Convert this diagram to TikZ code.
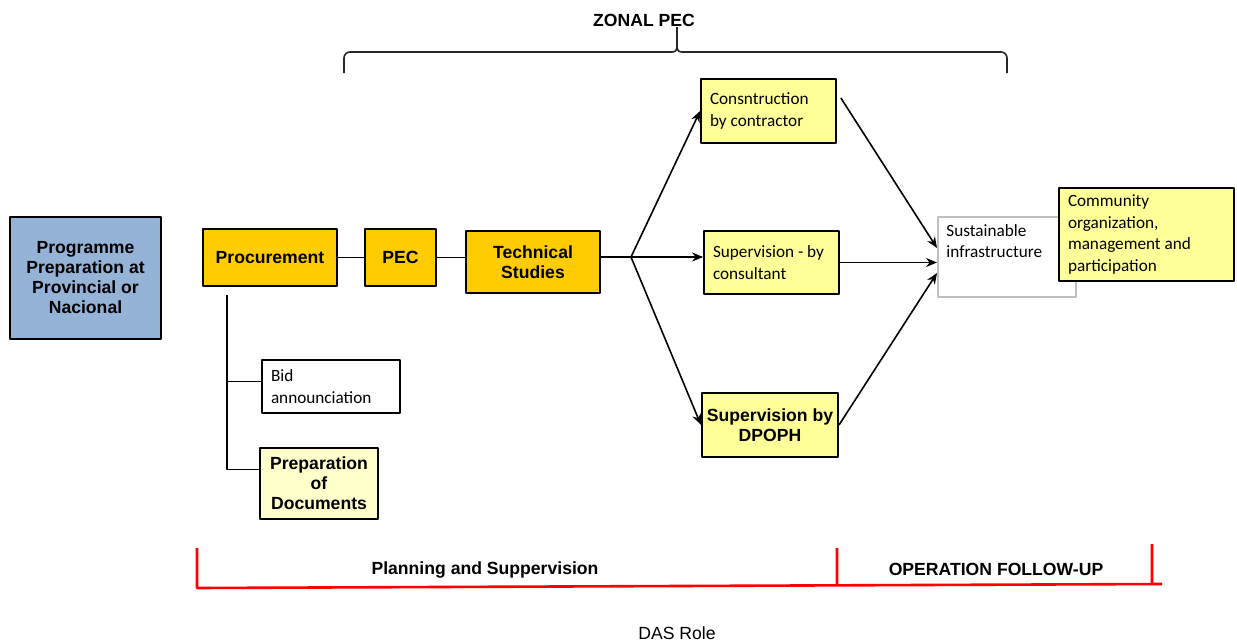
\documentclass[tikz,border=0pt]{standalone}
\usepackage{fontspec}
\setmainfont{Liberation Sans}
\newfontfamily\calibri{Carlito}
\usetikzlibrary{calc,arrows.meta}
\definecolor{progblue}{HTML}{95B3D7}
\definecolor{gold}{HTML}{FFCC00}
\definecolor{ylw}{HTML}{FFFF99}
\definecolor{paleylw}{HTML}{FFFFCC}
\definecolor{boxgray}{HTML}{BFBFBF}
\begin{document}
\begin{tikzpicture}[x=.5pt, y=-.5pt, line join=round, >={Stealth[length=5.5pt,width=4.5pt]},
        bbox/.style={draw, line width=1pt, inner sep=0pt, align=center, font=\fontsize{8.8}{10}\selectfont\bfseries},
        cbox/.style={draw, line width=.9pt, inner xsep=4.5pt, inner ysep=0pt, align=flush left, font=\calibri\fontsize{8.6}{10.8}\selectfont},
        lbl/.style={inner sep=0pt, font=\fontsize{8.8}{10}\selectfont\bfseries},
        link/.style={line width=.8pt}]
                \useasboundingbox (0,0) rectangle (1237,643);
                % boxes
                \node[bbox, fill=progblue, minimum width=75.5pt, minimum height=61pt] (prog) at (85.5,278) {Programme\\Preparation at\\Provincial or\\Nacional};
                \node[bbox, fill=gold, minimum width=67pt, minimum height=28.5pt] (proc) at (270,257.5) {Procurement};
                \node[bbox, fill=gold, minimum width=35.5pt, minimum height=28.5pt] (pec) at (400.5,257.5) {PEC};
                \node[bbox, fill=gold, minimum width=67pt, minimum height=31pt] (tech) at (533,262) {Technical\\Studies};
                \node[cbox, fill=ylw, text width=58.5pt, minimum height=32pt] (constr) at (768.5,111) {Consntruction\\by contractor};
                \node[cbox, fill=ylw, text width=58.5pt, minimum height=31.5pt] (cons) at (771.5,262.5) {Supervision - by\\consultant};
                \node[bbox, fill=ylw, minimum width=68pt, minimum height=32pt] (dpoph) at (770,425) {Supervision by\\DPOPH};
                \node[draw=boxgray, line width=1pt, minimum width=69pt, minimum height=40pt, inner sep=0pt] (sust) at (1007,257) {};
                \node[anchor=north west, inner sep=0pt, align=flush left, font=\calibri\fontsize{8.6}{10.8}\selectfont] (susttxt) at ($(sust.north west)+(9,8)$) {Sustainable\\infrastructure};
                \node[cbox, fill=ylw, text width=78.5pt, minimum height=46.5pt] (comm) at (1146.5,234.5) {Community\\organization,\\management and\\participation};
                \node[cbox, fill=white, text width=60pt, minimum height=26.5pt] (bid) at (331,386.5) {Bid\\announciation};
                \node[bbox, fill=paleylw, minimum width=59pt, minimum height=35.5pt] (prep) at (319,483.5) {Preparation\\of\\Documents};
                % connectors
                \path (631,257) coordinate (split)
                (227,295) coordinate (trunk)
                ($(bid.west)+(0,-5)$) coordinate (bidjoin)
                ($(prep.west)+(0,-14)$) coordinate (prepjoin);
                \draw[link] (proc) -- (pec) (pec) -- (pec -| tech.west) (tech.east |- split) -- (split);
                \draw[link] (trunk) |- (prepjoin) (trunk |- bidjoin) -- (bidjoin);
                \draw[link, ->] (split) -- (constr.west);
                \draw[link, ->] (split) -- (split -| cons.west);
                \draw[link, ->] (split) -- (dpoph.west);
                \draw[link, ->] ($(constr.east)+(4,-13)$) -- ($(sust.west)+(0,-9)$);
                \draw[link, ->] (cons.east) -- (cons.east -| sust.west);
                \draw[link, ->] (dpoph.east) -- ($(sust.west)+(0,16)$);
                % zonal brace
                \path (344,73) coordinate (zl) (1007,73) coordinate (zr) (677,27) coordinate (ztip);
                \draw[line width=.8pt, draw=black!85, rounded corners=3pt] (zl) -- (344,52) -- (672,52);
                \draw[line width=.8pt, draw=black!85] (672,52) .. controls (676,52) and (677,50) .. (677,45) -- (ztip)
                        (682,52) .. controls (678,52) and (677,50) .. (677,45);
                \draw[line width=.8pt, draw=black!85, rounded corners=3pt] (682,52) -- (1007,52) -- (zr);
                \node[lbl] (zonal) at (644,20) {ZONAL PEC};
                % DAS role bracket
                \path (197,548) coordinate (rl) (197,588) coordinate (rlb)
                (837,548) coordinate (rm) (837,586) coordinate (rmb)
                (1152,544) coordinate (rr) (1152,584) coordinate (rrb) (1162,584) coordinate (rend);
                \draw[red, line width=1.3pt] (rl) -- (rlb) -- (rend) (rm) -- (rmb) (rr) -- (rrb);
                \node[lbl] (plan) at (485,570) {Planning and Suppervision};
                \node[lbl] (oper) at (996,569) {OPERATION FOLLOW-UP};
                \node[inner sep=0pt, font=\fontsize{8.8}{10}\selectfont] (das) at (677,633) {DAS Role};
\end{tikzpicture}
\end{document}
